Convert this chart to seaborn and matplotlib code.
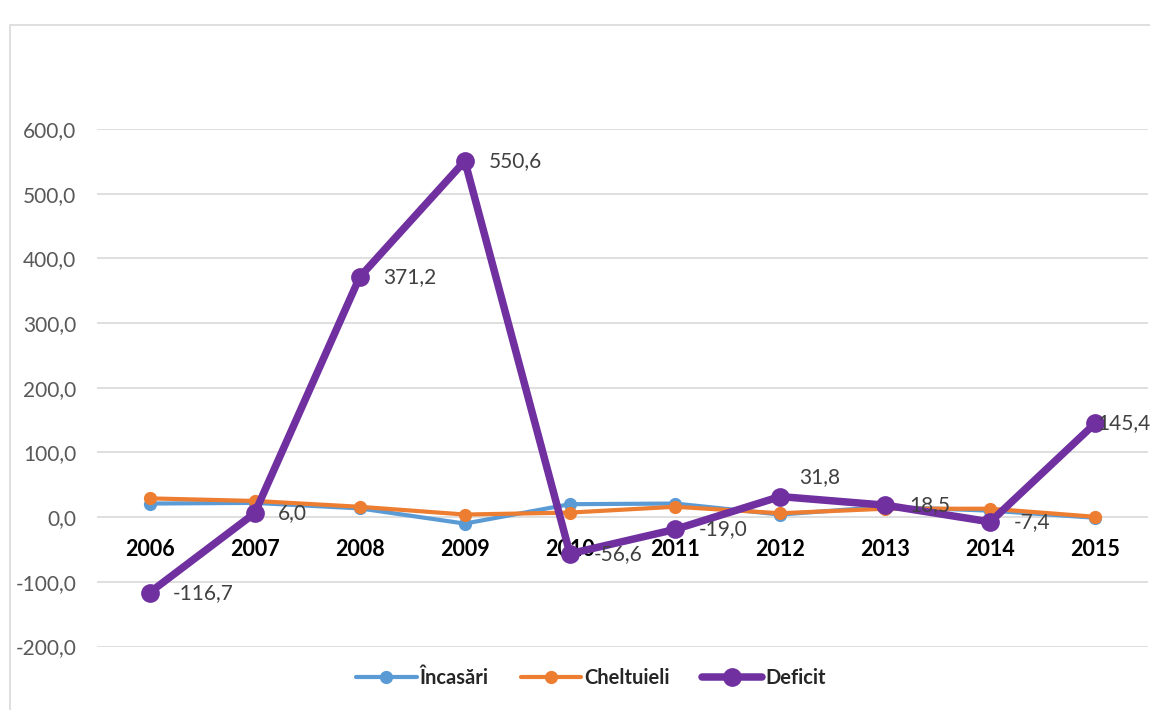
import matplotlib
matplotlib.use("Agg")
import matplotlib.pyplot as plt
import matplotlib.patches as mpatches
import seaborn as sns
import pandas as pd
import numpy as np

# Yearly values
years = ["2006", "2007", "2008", "2009", "2010", "2011", "2012", "2013", "2014", "2015"]
incasari = [21.0, 22.0, 13.5, -10.0, 20.0, 21.0, 4.0, 16.0, 10.0, -1.0]
cheltuieli = [29.0, 25.0, 16.0, 4.0, 7.0, 16.0, 6.0, 13.0, 13.0, 0.5]
deficit = [-116.7, 6.0, 371.2, 550.6, -56.6, -19.0, 31.8, 18.5, -7.4, 145.4]

series_names = ["Încasări", "Cheltuieli", "Deficit"]
colors = {"Încasări": "#5B9BD5", "Cheltuieli": "#ED7D31", "Deficit": "#7030A0"}

sns.set_theme(style="white")
plt.rcParams["font.family"] = ["Lato", "DejaVu Sans"]

fig = plt.figure(figsize=(11.5, 7.1), dpi=100)
ax = fig.add_axes([97 / 1150, 1 - 646.5 / 710, (1148 - 97) / 1150, (646.5 - 129) / 710])

# Outer chart frame
fig.patches.append(mpatches.Rectangle((10 / 1150, -0.05), 1.1, 1 - 25 / 710 + 0.05,
                                      transform=fig.transFigure, fill=False,
                                      edgecolor="#D9D9D9", linewidth=1.2, zorder=0))

x = np.arange(len(years))
df = pd.DataFrame({"x": np.tile(x, 3),
                   "value": incasari + cheltuieli + deficit,
                   "series": np.repeat(series_names, len(years))})

styles = {"Încasări": dict(lw=3.0, ms=9.5),
          "Cheltuieli": dict(lw=3.0, ms=9.5),
          "Deficit": dict(lw=5.4, ms=13.5)}

for i, name in enumerate(series_names):
    sub = df[df["series"] == name]
    sns.lineplot(data=sub, x="x", y="value", ax=ax, color=colors[name],
                 linewidth=styles[name]["lw"], marker="o",
                 markersize=styles[name]["ms"], markeredgewidth=0,
                 label=name, zorder=3 + i, clip_on=False)

# Data labels for deficit; a few are nudged to stay clear of the lines/edge
label_offsets = {6: (14, 14), 9: (1, 0)}
for xi, v in zip(x, deficit):
    dx, dy = label_offsets.get(xi, (17, 0))
    ax.annotate(f"{v:.1f}".replace(".", ","), (xi, v), xytext=(dx, dy),
                textcoords="offset points", ha="left", va="center",
                fontsize=15, color="#404040", zorder=10, annotation_clip=False)

ax.set_xlim(-0.5, 9.5)
ax.set_ylim(-200, 600)
yt = np.arange(-200, 601, 100)
ax.set_yticks(yt)
ax.set_yticklabels([f"{v:.1f}".replace(".", ",") for v in yt], fontsize=15, color="#595959")
ax.tick_params(axis="y", length=0, pad=15)
ax.set_xticks([])
ax.set_xlabel("")
ax.set_ylabel("")
ax.grid(axis="y", color="#D9D9D9", linewidth=1.2)
ax.set_axisbelow(True)
for s in ax.spines.values():
    s.set_visible(False)

# Category labels next to the zero line
for xi, lab in zip(x, years):
    ax.annotate(lab, (xi, 0), xytext=(0, -23), textcoords="offset points",
                ha="center", va="center", fontsize=15.5, fontweight="bold",
                color="black", zorder=2, annotation_clip=False)

ax.legend(loc="center", bbox_to_anchor=(0.47, -0.06), ncol=3, frameon=False,
          handlelength=3.0, columnspacing=1.6, handletextpad=0.15,
          prop={"weight": "bold", "size": 14.5})

fig.savefig("out.png", dpi=100)
